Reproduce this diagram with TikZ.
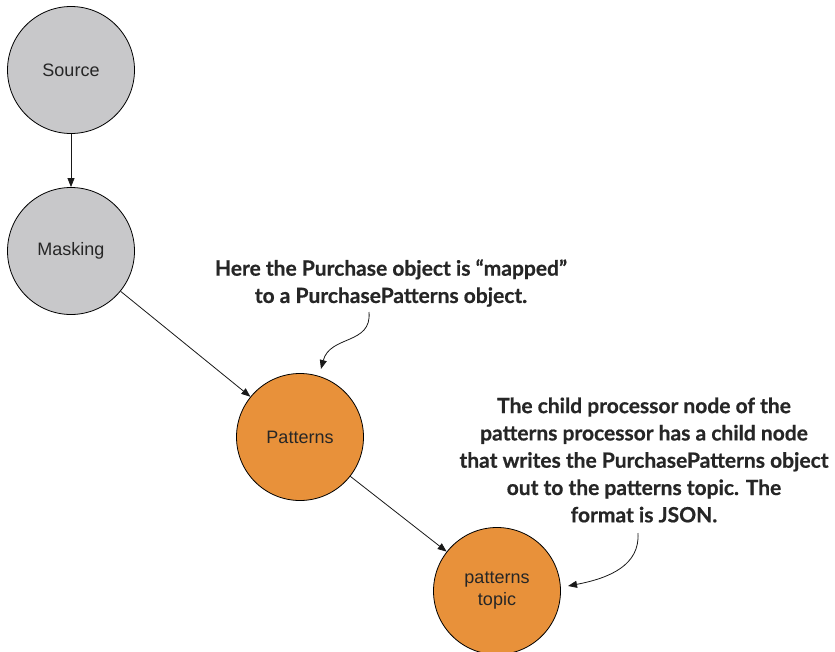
\documentclass[tikz,border=0pt]{standalone}
\usepackage{fontspec}
\setmainfont{Liberation Sans}
\newfontfamily\notefont[BoldFeatures={FakeBold=0.6}]{Lato}
\usetikzlibrary{arrows.meta}
\definecolor{grayfill}{HTML}{C8C8CA}
\definecolor{orangefill}{HTML}{E8913A}
\tikzset{
  proc/.style={circle, draw=black, line width=0.8pt, minimum size=127pt, inner sep=0pt, align=center, font=\fontsize{18}{22}\selectfont, text=black!85},
  grayproc/.style={proc, fill=grayfill},
  orangeproc/.style={proc, fill=orangefill},
  conn/.style={draw=black!90, line width=0.8pt, -{Triangle[length=9pt,width=7pt]}},
  note/.style={align=center, font=\notefont\bfseries\fontsize{21}{27.3}\selectfont, text=black!85},
}
\begin{document}
\begin{tikzpicture}[x=1pt,y=-1pt]
\useasboundingbox (0,0) rectangle (835,651);
\node[grayproc] (source) at (71,70) {Source};
\node[grayproc] (masking) at (71,251) {Masking};
\node[orangeproc] (patterns) at (300,437) {Patterns};
\node[orangeproc] (topic) at (497,591) {patterns\\topic};
\draw[conn] (source) -- (masking);
\draw[conn] (masking) -- (patterns);
\draw[conn] (patterns) -- (topic);
\node[note] (note1) at (391,283) {Here the Purchase object is “mapped”\\to a PurchasePatterns object.};
\node[note] (note2) at (644,460) {The child processor node of the\\patterns processor has a child node\\that writes the PurchasePatterns object\\out to the patterns topic. The\\format is JSON.};
\coordinate (c1s) at (369,312);
\coordinate (c1e) at (321,369);
\coordinate (c2s) at (638,533);
\coordinate (c2e) at (568,586);
\draw[conn] (c1s) .. controls (372,345) and (330,335) .. (c1e);
\draw[conn] (c2s) .. controls (640,565) and (610,578) .. (c2e);
\end{tikzpicture}
\end{document}
